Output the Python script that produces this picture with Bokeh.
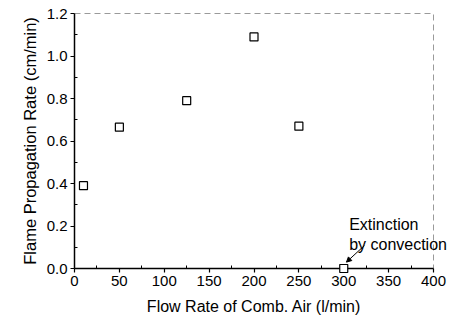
from bokeh.plotting import figure
from bokeh.models import Range1d, FixedTicker, Arrow, NormalHead, CustomJSTickFormatter
from bokeh.core.properties import value
from bokeh.embed import file_html
from bokeh.resources import INLINE

# Flame propagation rate vs. combustion air flow rate
flow_rate = [10, 50, 125, 200, 250, 300]          # l/min
prop_rate = [0.39, 0.665, 0.79, 1.09, 0.67, 0.0]  # cm/min

x_ticks = [0, 50, 100, 150, 200, 250, 300, 350, 400]
y_ticks = [0.0, 0.2, 0.4, 0.6, 0.8, 1.0, 1.2]
x_minor = [25, 75, 125, 175, 225, 275, 325, 375]
y_minor = [0.1, 0.3, 0.5, 0.7, 0.9, 1.1]

note_lines = ["Extinction", "by convection"]

FONT = "Liberation Sans"

p = figure(width=455, height=320, output_backend="svg", toolbar_location=None,
           x_range=Range1d(0, 400), y_range=Range1d(0, 1.2),
           min_border_left=74, min_border_right=22, min_border_top=13,
           min_border_bottom=52)
p.background_fill_color = "white"
p.border_fill_color = "white"
p.grid.visible = False
p.outline_line_color = "#9a9a9a"
p.outline_line_dash = "6 4"
p.outline_line_width = 1

p.xaxis.ticker = FixedTicker(ticks=x_ticks, minor_ticks=x_minor)
p.yaxis.ticker = FixedTicker(ticks=y_ticks, minor_ticks=y_minor)
p.yaxis.formatter = CustomJSTickFormatter(code="return tick.toFixed(1);")

for ax in (p.xaxis[0], p.yaxis[0]):
    ax.axis_line_width = 1.5
    ax.axis_line_color = "black"
    ax.major_tick_line_color = "black"
    ax.major_tick_line_width = 1.2
    ax.major_tick_out = 4
    ax.major_tick_in = 0
    ax.minor_tick_in = 3
    ax.minor_tick_out = 0
    ax.minor_tick_line_color = "black"
    ax.major_label_text_font = FONT
    ax.major_label_text_font_size = "15px"
    ax.major_label_text_color = "black"
    ax.axis_label_text_font = FONT
    ax.axis_label_text_font_size = "16px"
    ax.axis_label_text_font_style = "normal"
    ax.axis_label_text_color = "black"

p.yaxis.axis_label_text_font_size = "16.5px"
p.xaxis.axis_label = "Flow Rate of Comb. Air (l/min)"
p.yaxis.axis_label = "Flame Propagation Rate (cm/min)"
p.xaxis.major_label_standoff = 3
p.yaxis.major_label_standoff = 3
p.xaxis.axis_label_standoff = 9
p.yaxis.axis_label_standoff = 5

p.scatter(flow_rate, prop_rate, marker="square", size=8, fill_color="white",
          line_color="black", line_width=1.2, level="overlay")

# annotation for the extinction point (runs past the right frame edge)
p.text(x=[306, 306], y=[0.207, 0.113], text=note_lines,
       text_font=value(FONT), text_font_size="16px", text_color="black",
       text_baseline="middle", text_align="left", level="overlay")
p.add_layout(Arrow(end=NormalHead(size=5, line_color="black", fill_color="black"),
                   x_start=323, y_start=0.108, x_end=303, y_end=0.03,
                   line_color="black", line_width=1, level="overlay"))

open("out.html", "w").write(file_html(p, INLINE))
